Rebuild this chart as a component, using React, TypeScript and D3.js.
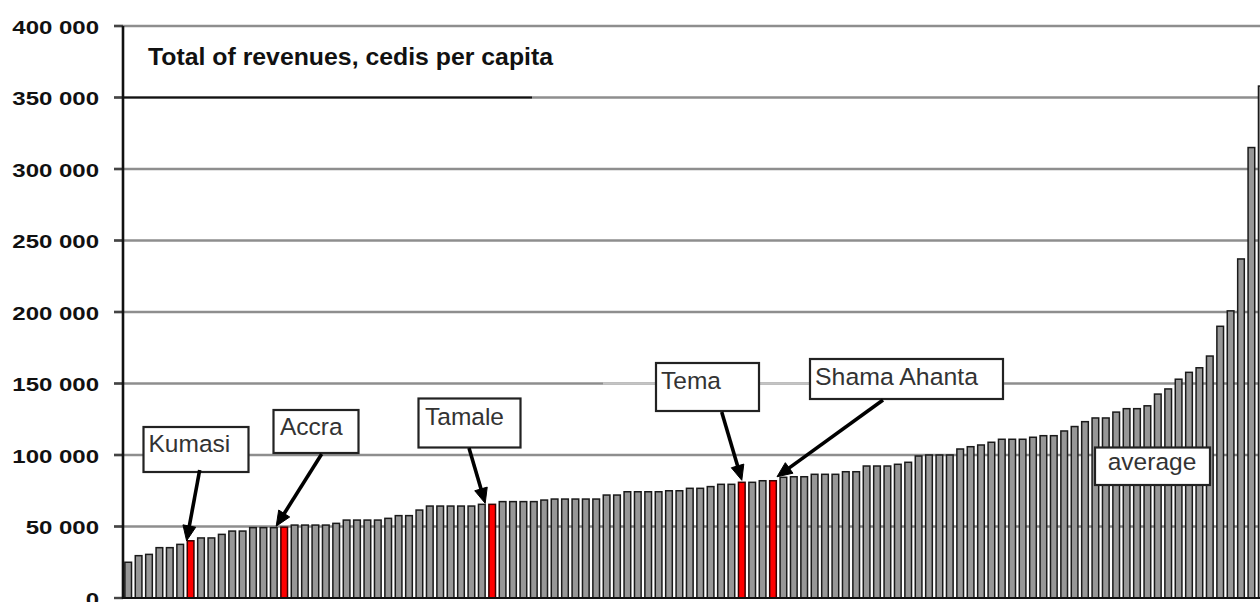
import React from "react";
import * as d3 from "d3";

// ---- Data ----
const values: number[] = [
  25000, 29600, 30500, 35200, 35200, 37500, 40000, 42000, 42000, 44500,
  46800, 46800, 49200, 49200, 49200, 49500, 51000, 51000, 51000, 51000,
  52200, 54500, 54500, 54500, 54500, 55700, 57600, 57600, 61500, 64300,
  64300, 64300, 64300, 64300, 65500, 65500, 67400, 67400, 67400, 67400,
  68500, 69200, 69200, 69200, 69200, 69200, 72000, 72000, 74300, 74300,
  74300, 74300, 75000, 75000, 76700, 76700, 77900, 79500, 79500, 80900,
  80900, 82000, 82000, 84400, 84800, 84800, 86500, 86500, 86500, 88300,
  88300, 92300, 92300, 92300, 93500, 94900, 99300, 100000, 100000, 100000,
  104200, 105800, 107000, 108900, 111000, 111000, 111000, 112400, 113500, 113500,
  116800, 119900, 123300, 125900, 125900, 130000, 132400, 132400, 134400, 142600,
  146200, 153000, 157800, 161000, 169200, 190000, 200800, 237100, 315000, 358000,
];
const highlightNames: string[] = ["Kumasi", "Accra", "Tamale", "Tema", "Shama Ahanta"];
const highlightIndex: number[] = [6, 15, 35, 59, 62];
const yTicks: number[] = [0, 50000, 100000, 150000, 200000, 250000, 300000, 350000, 400000];
const chartTitle = "Total of revenues, cedis per capita";
const averageLabel = "average";

// ---- Layout ----
const W = 1260;
const H = 602;
const FONT = "'Liberation Sans', Arial, Helvetica, sans-serif";
const LEFT = 123;
const STEP = 10.4;

type Ann = {
  box: [number, number, number, number];
  text: [number, number];
  from: [number, number];
  tipDx: number;
  tipDy: number;
  textLength?: number;
};
const annLayout: Record<string, Ann> = {
  Kumasi: { box: [143.5, 427, 105, 45], text: [148.5, 452], from: [199.7, 470], tipDx: -4, tipDy: 0 },
  Accra: { box: [273.5, 410, 85, 43], text: [280, 435], from: [321.7, 454], tipDx: -8, tipDy: 1 },
  Tamale: { box: [418.5, 398.5, 102, 49], text: [425, 425], from: [469, 448], tipDx: -7, tipDy: 1 },
  Tema: { box: [656, 363, 103, 48], text: [661, 388.5], from: [721.7, 412], tipDx: 0, tipDy: 2 },
  "Shama Ahanta": { box: [810, 359, 193, 40], text: [815, 385], from: [883, 400], tipDx: 4, tipDy: 4, textLength: 163 },
};

function Arrow({ x1, y1, x2, y2 }: { x1: number; y1: number; x2: number; y2: number }) {
  const dx = x2 - x1;
  const dy = y2 - y1;
  const len = Math.sqrt(dx * dx + dy * dy);
  const ux = dx / len;
  const uy = dy / len;
  const L = 15;
  const hw = 6.5;
  const bx = x2 - ux * L;
  const by = y2 - uy * L;
  const px = -uy;
  const py = ux;
  const pts = `${x2},${y2} ${bx + px * hw},${by + py * hw} ${bx - px * hw},${by - py * hw}`;
  return (
    <g>
      <line x1={x1} y1={y1} x2={bx + ux * 2} y2={by + uy * 2} stroke="#000" strokeWidth={3.6} />
      <polygon points={pts} fill="#000" stroke="#000" strokeWidth={1} strokeLinejoin="round" />
    </g>
  );
}

export default function App() {
  const x = d3
    .scaleBand<number>()
    .domain(d3.range(values.length))
    .range([LEFT, LEFT + values.length * STEP])
    .paddingInner(0.36)
    .paddingOuter(0.18);
  const y = d3.scaleLinear().domain([0, 400000]).range([598, 26]);
  const fmt = (v: number) => d3.format(",")(v).replace(/,/g, " ");
  const hiSet = new Map<number, string>();
  highlightIndex.forEach((idx, i) => hiSet.set(idx, highlightNames[i]));

  return (
    <svg
      width={W}
      height={H}
      style={{ position: "absolute", left: 0, top: 0, background: "#fff" }}
      fontFamily={FONT}
    >
      <rect x={0} y={0} width={W} height={H} fill="#fff" />
      {/* gridlines */}
      {yTicks
        .filter((t) => t > 0)
        .map((t) => (
          <line key={"g" + t} x1={114} x2={W} y1={y(t)} y2={y(t)} stroke="#8e8e8e" strokeWidth={2.4} />
        ))}
      {/* lighter segment of 150 000 gridline */}
      <line x1={603} x2={810} y1={y(150000)} y2={y(150000)} stroke="#c4c4c4" strokeWidth={2.4} />
      {/* title box bottom border */}
      <line x1={LEFT} x2={532} y1={y(350000)} y2={y(350000)} stroke="#111" strokeWidth={2.2} />
      {/* tick marks */}
      {yTicks.map((t) => (
        <line key={"t" + t} x1={114} x2={LEFT} y1={y(t)} y2={y(t)} stroke="#444" strokeWidth={2.4} />
      ))}
      {/* bars */}
      {values.map((v, i) => {
        const red = hiSet.has(i);
        return (
          <rect
            key={"b" + i}
            x={x(i)!}
            y={y(v)}
            width={x.bandwidth()}
            height={y(0) - y(v)}
            fill={red ? "#ff0000" : "#979797"}
            stroke={red ? "#3a0000" : "#1a1a1a"}
            strokeWidth={1.5}
          />
        );
      })}
      {/* axes */}
      <line x1={LEFT} x2={W} y1={y(0)} y2={y(0)} stroke="#111" strokeWidth={2.2} />
      <line x1={LEFT} x2={LEFT} y1={y(400000)} y2={y(0) + 1} stroke="#111" strokeWidth={2.6} />
      {/* y labels */}
      {yTicks.map((t) => (
        <g key={"l" + t} transform={`translate(99,${y(t) + 7.5}) scale(1.25,1)`}>
          <text textAnchor="end" fontSize={19.2} fontWeight="bold" fill="#111">
            {fmt(t)}
          </text>
        </g>
      ))}
      {/* title */}
      <text
        x={148}
        y={65}
        fontSize={24}
        fontWeight="bold"
        fill="#111"
        textLength={405}
        lengthAdjust="spacingAndGlyphs"
      >
        {chartTitle}
      </text>
      {/* annotations */}
      {highlightNames.map((name, i) => {
        const a = annLayout[name];
        const idx = highlightIndex[i];
        const tipX = x(idx)! + x.bandwidth() / 2 + a.tipDx;
        const tipY = y(values[idx]) - a.tipDy;
        return (
          <g key={"a" + name}>
            <rect x={a.box[0]} y={a.box[1]} width={a.box[2]} height={a.box[3]} fill="#fff" stroke="#222" strokeWidth={2.2} />
            <text
              x={a.text[0]}
              y={a.text[1]}
              fontSize={24.5}
              fill="#333"
              {...(a.textLength ? { textLength: a.textLength, lengthAdjust: "spacingAndGlyphs" } : {})}
            >
              {name}
            </text>
            <Arrow x1={a.from[0]} y1={a.from[1]} x2={tipX} y2={tipY} />
          </g>
        );
      })}
      {/* average box */}
      <rect x={1095} y={447.5} width={115} height={37.5} fill="#fff" stroke="#222" strokeWidth={2.2} />
      <text x={1152} y={470} fontSize={24.5} fill="#333" textAnchor="middle">
        {averageLabel}
      </text>
    </svg>
  );
}
